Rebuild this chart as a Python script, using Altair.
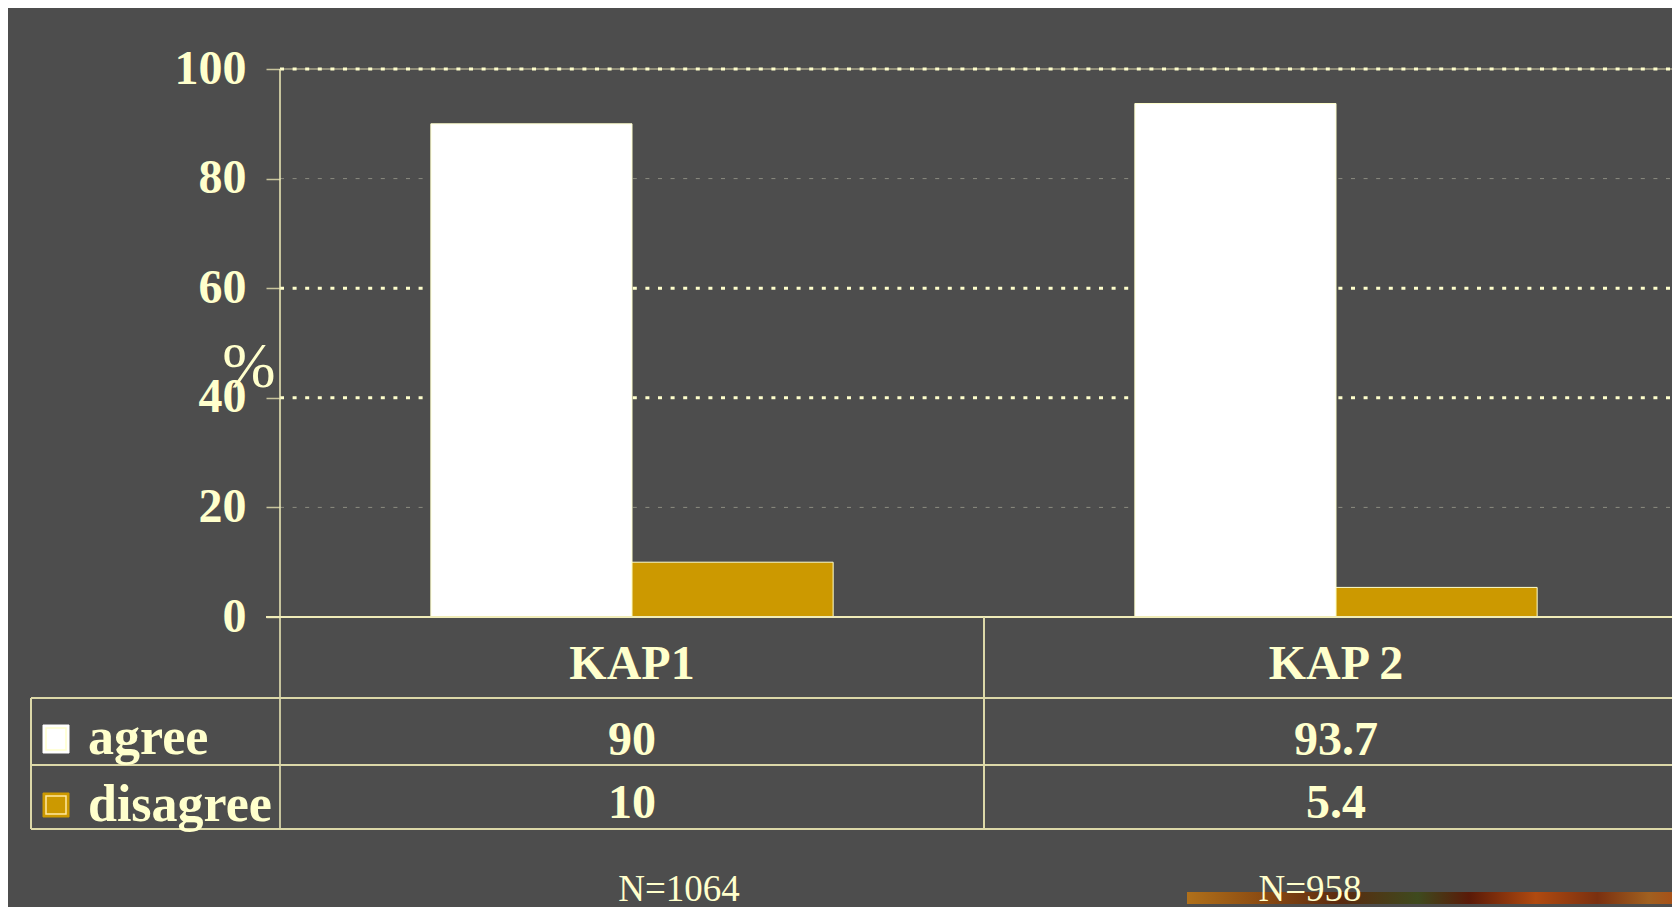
import altair as alt
import pandas as pd

# ---------------- data ----------------
categories = ["KAP1", "KAP 2"]
series = ["agree", "disagree"]
agree = [90, 93.7]
disagree = [10, 5.4]
sample_sizes = ["N=1064", "N=958"]
y_ticks = [0, 20, 40, 60, 80, 100]
dotted_grid = [100, 60, 40]
dashed_grid = [80, 20]

# ---------------- styles / layout (pixels, plot-area coordinates) ----------------
BG = "#4d4d4d"
CREAM = "#ffffcc"
GOLD = "#cc9900"
LINE = "#dcd8a8"
FONT = "Liberation Serif"
W, H = 1392, 548
PAD_L, PAD_T, PAD_B = 272, 61, 290
BAND_RANGE = 1408
RIGHT = 1420
TABLE_LEFT = -249
ROW_LINES = [629, 696, 760]
CAT_BASE = 610
VALUE_BASE = [686, 749]
LEGEND_BASE = [685, 752]
SWATCH_Y = [(656, 684), (724, 748)]
SWATCH_X = (-237, -211)
LEGEND_TEXT_X = -192
N_BASE = 832
N_DX = [47, -26]

bars = pd.DataFrame(
    [{"category": c, "series": "agree", "value": v} for c, v in zip(categories, agree)]
    + [{"category": c, "series": "disagree", "value": v} for c, v in zip(categories, disagree)]
)
bars["label"] = bars["value"].map(lambda v: f"{v:g}")
cat_df = pd.DataFrame({"category": categories, "n": sample_sizes})
one = pd.DataFrame({"k": [0]})

x_scale = alt.Scale(domain=categories, range=[0, BAND_RANGE], paddingInner=0, paddingOuter=0)


def x_enc(band_pos=None):
    if band_pos is None:
        return alt.X("category:N", sort=categories, scale=x_scale, axis=None)
    return alt.X("category:N", sort=categories, scale=x_scale, axis=None, bandPosition=band_pos)


y_axis = alt.Axis(
    values=y_ticks,
    labelFont=FONT,
    labelFontSize=48,
    labelFontWeight="bold",
    labelColor=CREAM,
    labelPadding=20,
    tickSize=14,
    tickColor="#c8c49c",
    tickWidth=1.5,
    domain=False,
    grid=False,
    title=None,
)
y_scale = alt.Scale(domain=[0, 100], nice=False)

layers = []

# top solid line at 100
layers.append(
    alt.Chart(pd.DataFrame({"value": [100]})).mark_rule(color="#a8a48a", strokeWidth=1.5)
    .encode(y=alt.Y("value:Q", scale=y_scale, axis=y_axis), x=alt.value(0), x2=alt.value(RIGHT))
)
# dotted grid
layers.append(
    alt.Chart(pd.DataFrame({"value": dotted_grid})).mark_rule(color=CREAM, strokeWidth=3, strokeDash=[4, 8.6])
    .encode(y=alt.Y("value:Q"), x=alt.value(0), x2=alt.value(RIGHT))
)
# dashed grid
layers.append(
    alt.Chart(pd.DataFrame({"value": dashed_grid})).mark_rule(color="#8c8c80", strokeWidth=1, strokeDash=[4, 8.6])
    .encode(y=alt.Y("value:Q"), x=alt.value(0), x2=alt.value(RIGHT))
)

# bars
layers.append(
    alt.Chart(bars).mark_bar(stroke=CREAM, strokeWidth=1)
    .encode(
        x=x_enc(),
        xOffset=alt.XOffset("series:N", sort=series, scale=alt.Scale(paddingInner=0, paddingOuter=0.75)),
        y=alt.Y("value:Q"),
        color=alt.Color("series:N", scale=alt.Scale(domain=series, range=["#ffffff", GOLD]), legend=None),
    )
)

# zero line and y-axis line
layers.append(
    alt.Chart(pd.DataFrame({"value": [0]})).mark_rule(color="#f0ecb8", strokeWidth=2)
    .encode(y=alt.Y("value:Q"), x=alt.value(-14), x2=alt.value(RIGHT))
)
layers.append(
    alt.Chart(one).mark_rule(color="#f0ecb8", strokeWidth=1.5)
    .encode(x=alt.value(0), y=alt.value(0), y2=alt.value(ROW_LINES[-1]))
)

# table lines
for yy in ROW_LINES:
    layers.append(
        alt.Chart(one).mark_rule(color=LINE, strokeWidth=2)
        .encode(x=alt.value(TABLE_LEFT), x2=alt.value(RIGHT), y=alt.value(yy))
    )
layers.append(
    alt.Chart(one).mark_rule(color=LINE, strokeWidth=2)
    .encode(x=alt.value(TABLE_LEFT), y=alt.value(ROW_LINES[0]), y2=alt.value(ROW_LINES[-1]))
)
layers.append(
    alt.Chart(cat_df.iloc[:1]).mark_rule(color=LINE, strokeWidth=2)
    .encode(x=x_enc(1), y=alt.value(H), y2=alt.value(ROW_LINES[-1]))
)

# category labels
layers.append(
    alt.Chart(cat_df).mark_text(font=FONT, fontSize=48, fontWeight="bold", color=CREAM, baseline="alphabetic")
    .encode(x=x_enc(0.5), y=alt.value(CAT_BASE), text="category:N")
)

# table values and legend rows
for i, s in enumerate(series):
    sub = alt.Chart(bars).transform_filter(alt.datum.series == s)
    layers.append(
        sub.mark_text(font=FONT, fontSize=48, fontWeight="bold", color=CREAM, baseline="alphabetic")
        .encode(x=x_enc(0.5), y=alt.value(VALUE_BASE[i]), text="label:N")
    )
    sw = alt.Chart(pd.DataFrame({"series": [s]}))
    layers.append(
        sw.mark_rect(fill=["#ffffff", GOLD][i], stroke=["#ffffff", GOLD][i], strokeWidth=1)
        .encode(x=alt.value(SWATCH_X[0]), x2=alt.value(SWATCH_X[1]),
                y=alt.value(SWATCH_Y[i][0]), y2=alt.value(SWATCH_Y[i][1]))
    )
    layers.append(
        sw.mark_rect(fill=None, stroke=CREAM if i == 0 else "#ffe9a0", strokeWidth=1.5)
        .encode(x=alt.value(SWATCH_X[0] + 3), x2=alt.value(SWATCH_X[1] - 3),
                y=alt.value(SWATCH_Y[i][0] + 3), y2=alt.value(SWATCH_Y[i][1] - 3))
    )
    layers.append(
        sw.mark_text(font=FONT, fontSize=52, fontWeight="bold", color=CREAM, baseline="alphabetic", align="left")
        .encode(x=alt.value(LEGEND_TEXT_X), y=alt.value(LEGEND_BASE[i]), text="series:N")
    )

# "%" axis title
layers.append(
    alt.Chart(one).mark_text(text="%", font=FONT, fontSize=64, color=CREAM, baseline="alphabetic")
    .encode(x=alt.value(-31), y=alt.value(318))
)

# decorative strip (slide background picture)
layers.append(
    alt.Chart(one).mark_rect(
        color=alt.Gradient(
            gradient="linear", x1=0, x2=1, y1=0, y2=0,
            stops=[
                alt.GradientStop(color="#b0701a", offset=0),
                alt.GradientStop(color="#8a4a12", offset=0.15),
                alt.GradientStop(color="#5a2a10", offset=0.3),
                alt.GradientStop(color="#3e4a1e", offset=0.45),
                alt.GradientStop(color="#5a1a08", offset=0.55),
                alt.GradientStop(color="#b04a10", offset=0.68),
                alt.GradientStop(color="#7a3010", offset=0.8),
                alt.GradientStop(color="#a06020", offset=0.9),
                alt.GradientStop(color="#b04010", offset=1),
            ],
        )
    ).encode(x=alt.value(907), x2=alt.value(RIGHT), y=alt.value(823), y2=alt.value(835))
)

# sample sizes
for i in range(len(categories)):
    layers.append(
        alt.Chart(cat_df.iloc[i:i + 1]).mark_text(font=FONT, fontSize=37, color=CREAM, baseline="alphabetic", dx=N_DX[i])
        .encode(x=x_enc(0.5), y=alt.value(N_BASE), text="n:N")
    )

chart = (
    alt.layer(*layers)
    .properties(
        width=W,
        height=H,
        padding={"left": PAD_L, "top": PAD_T, "right": 0, "bottom": PAD_B},
        autosize=alt.AutoSizeParams(type="none"),
        background=BG,
    )
    .configure_view(stroke=None)
)

chart.save("out.html", embed_options={"renderer": "svg", "actions": False})
